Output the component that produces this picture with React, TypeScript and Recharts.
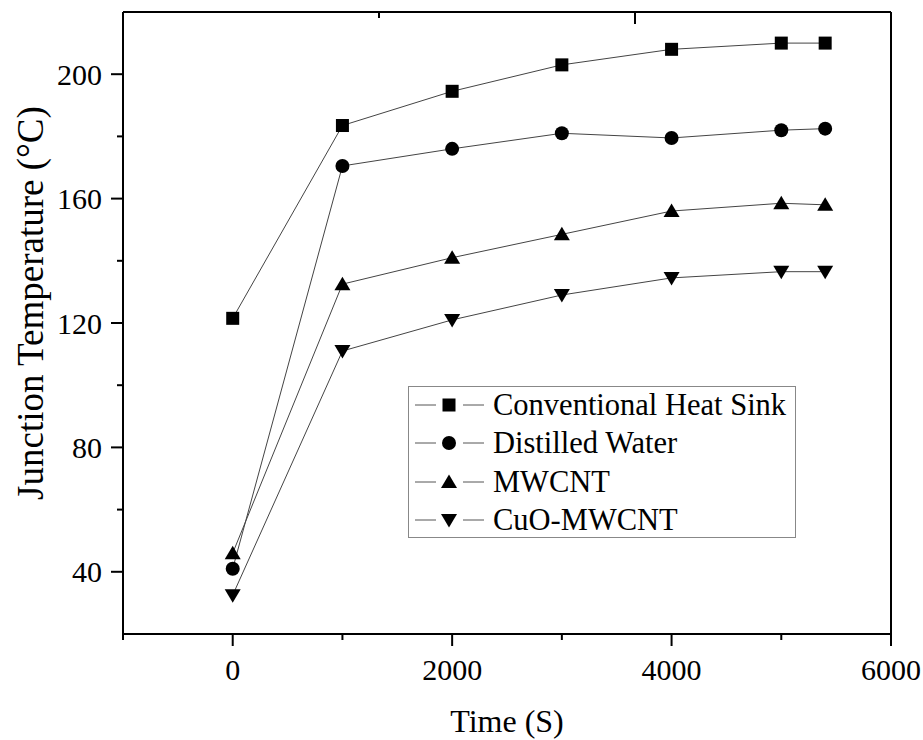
import { LineChart, Line, XAxis, YAxis, Legend, Label } from 'recharts';

const times = [0, 1000, 2000, 3000, 4000, 5000, 5400];
const conventional = [121.5, 183.5, 194.5, 203, 208, 210, 210];
const distilled = [41, 170.5, 176, 181, 179.5, 182, 182.5];
const mwcnt = [46, 132.5, 141, 148.5, 156, 158.5, 158];
const cuoMwcnt = [32.5, 111, 121, 129, 134.5, 136.5, 136.5];

const seriesNames = ['Conventional Heat Sink', 'Distilled Water', 'MWCNT', 'CuO-MWCNT'];
const seriesKeys = ['conv', 'water', 'mwcnt', 'cuo'];

const xTicks = [-1000, 0, 1000, 2000, 3000, 4000, 5000, 6000];
const xMajor = [0, 2000, 4000, 6000];
const yTicks = [40, 60, 80, 100, 120, 140, 160, 180, 200];
const yMajor = [40, 80, 120, 160, 200];
// mirrored axes (top / right) use their own 0-10 scale, like the original plot
const frameTicks = [2, 4, 6, 8];
const topMajor = [4, 8];
const rightMajor = [4, 8];

const data = times.map((t, i) => ({
  t,
  conv: conventional[i],
  water: distilled[i],
  mwcnt: mwcnt[i],
  cuo: cuoMwcnt[i],
}));

const FONT = 'Liberation Serif, Times New Roman, serif';
const MAJOR = 12;
const MINOR = 6;

function marker(kind: number, cx: number, cy: number, key?: string) {
  if (kind === 0) return <rect key={key} x={cx - 6.5} y={cy - 6.5} width={13} height={13} fill='#000' />;
  if (kind === 1) return <circle key={key} cx={cx} cy={cy} r={7} fill='#000' />;
  if (kind === 2)
    return <path key={key} d={`M${cx},${cy - 7.5} L${cx + 8},${cy + 6} L${cx - 8},${cy + 6} Z`} fill='#000' />;
  return <path key={key} d={`M${cx},${cy + 7.5} L${cx + 8},${cy - 6} L${cx - 8},${cy - 6} Z`} fill='#000' />;
}

const dotFor = (kind: number) => (p: any) => {
  if (p.cx == null || p.cy == null) return <g key={`e${kind}-${p.index}`} />;
  return marker(kind, p.cx, p.cy, `d${kind}-${p.index}`);
};

const LeftTick = (p: any) => {
  const v = p.payload.value;
  const major = yMajor.includes(v);
  return (
    <g>
      <line x1={p.x} x2={p.x - (major ? MAJOR : MINOR)} y1={p.y} y2={p.y} stroke='#000' strokeWidth={2} />
      {major && (
        <text x={p.x - 21} y={p.y} textAnchor='end' dominantBaseline='central' fontFamily={FONT} fontSize={30} fill='#000'>
          {v}
        </text>
      )}
    </g>
  );
};

const BottomTick = (p: any) => {
  const v = p.payload.value;
  const major = xMajor.includes(v);
  return (
    <g>
      <line x1={p.x} x2={p.x} y1={p.y} y2={p.y + (major ? MAJOR : MINOR)} stroke='#000' strokeWidth={2} />
      {major && (
        <text x={p.x} y={p.y + 46} textAnchor='middle' fontFamily={FONT} fontSize={30} fill='#000'>
          {v}
        </text>
      )}
    </g>
  );
};

const TopTick = (p: any) => {
  const major = topMajor.includes(p.payload.value);
  return <line x1={p.x} x2={p.x} y1={p.y} y2={p.y + (major ? MAJOR : MINOR)} stroke='#000' strokeWidth={2} />;
};

const RightTick = (p: any) => {
  const major = rightMajor.includes(p.payload.value);
  return <line x1={p.x} x2={p.x - (major ? MAJOR : MINOR)} y1={p.y} y2={p.y} stroke='#000' strokeWidth={2} />;
};

const YTitle = () => (
  <text
    x={30}
    y={303}
    transform='rotate(-90, 30, 303)'
    textAnchor='middle'
    dominantBaseline='central'
    fontFamily={FONT}
    fontSize={37}
    fill='#000'
  >
    Junction Temperature (°C)
  </text>
);

function LegendBox() {
  return (
    <div
      style={{
        width: 388,
        height: 152,
        boxSizing: 'border-box',
        border: '1.5px solid #888',
        background: '#fff',
        fontFamily: FONT,
        fontSize: 30.5,
        color: '#000',
      }}
    >
      <div style={{ marginTop: -1.5 }}>
        {seriesNames.map((name, i) => (
          <div key={name} style={{ display: 'flex', alignItems: 'center', height: 38.5 }}>
            <svg width={84} height={30} style={{ flex: 'none' }}>
              <line x1={6} x2={27} y1={15} y2={15} stroke='#555' strokeWidth={1} />
              {marker(i, 40, 15)}
              <line x1={54} x2={75} y1={15} y2={15} stroke='#555' strokeWidth={1} />
            </svg>
            <span style={{ lineHeight: '30px', whiteSpace: 'nowrap' }}>{name}</span>
          </div>
        ))}
      </div>
    </div>
  );
}

export default function App() {
  return (
    <div style={{ position: 'absolute', left: 0, top: 0, background: '#fff' }}>
      <LineChart width={923} height={740} data={data} margin={{ top: 0, right: 0, bottom: 0, left: 0 }}>
        <XAxis
          xAxisId='b'
          type='number'
          dataKey='t'
          domain={[-1000, 6000]}
          ticks={xTicks}
          interval={0}
          height={106}
          tickSize={0}
          tickMargin={0}
          tickLine={false}
          axisLine={{ stroke: '#000', strokeWidth: 2 }}
          tick={BottomTick}
        >
          <Label value='Time (S)' position='insideBottom' offset={8} style={{ fontFamily: FONT, fontSize: 32, fill: '#000' }} />
        </XAxis>
        <XAxis
          xAxisId='t'
          orientation='top'
          type='number'
          domain={[0, 10]}
          ticks={frameTicks}
          interval={0}
          height={12}
          tickSize={0}
          tickMargin={0}
          tickLine={false}
          axisLine={{ stroke: '#000', strokeWidth: 2 }}
          tick={TopTick}
        />
        <YAxis
          yAxisId='l'
          type='number'
          domain={[20, 220]}
          ticks={yTicks}
          interval={0}
          width={123}
          tickSize={0}
          tickMargin={0}
          tickLine={false}
          axisLine={{ stroke: '#000', strokeWidth: 2 }}
          tick={LeftTick}
        >
          <Label content={YTitle} />
        </YAxis>
        <YAxis
          yAxisId='r'
          orientation='right'
          type='number'
          domain={[0, 10]}
          ticks={frameTicks}
          interval={0}
          width={32}
          tickSize={0}
          tickMargin={0}
          tickLine={false}
          axisLine={{ stroke: '#000', strokeWidth: 2 }}
          tick={RightTick}
        />
        <Legend
          layout='horizontal'
          verticalAlign='middle'
          align='center'
          wrapperStyle={{ left: 408, top: 386, width: 388, height: 152 }}
          content={() => <LegendBox />}
        />
        {seriesKeys.map((k, i) => (
          <Line
            key={k}
            xAxisId='b'
            yAxisId='l'
            dataKey={k}
            name={seriesNames[i]}
            type='linear'
            stroke='#444'
            strokeWidth={1}
            dot={dotFor(i)}
            activeDot={false}
            isAnimationActive={false}
          />
        ))}
      </LineChart>
    </div>
  );
}
